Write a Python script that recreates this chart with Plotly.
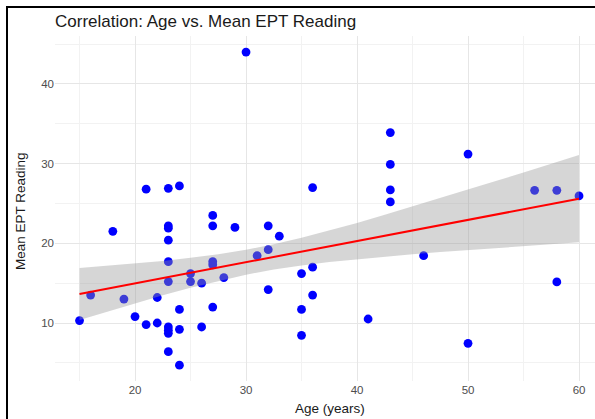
import plotly.graph_objects as go

# Scatter data (age in years, mean EPT reading)
age = [15, 16, 18, 19, 20, 21, 21, 22, 22,
       23, 23, 23, 23, 23, 23, 23, 23, 23, 23,
       24, 24, 24, 24, 25, 25, 26, 26,
       27, 27, 27, 27, 27, 28, 29, 30, 31,
       32, 32, 32, 33, 35, 35, 35, 36, 36, 36,
       41, 43, 43, 43, 43, 46, 50, 50, 56, 58, 58, 60]
ept = [10.3, 13.5, 21.5, 13.0, 10.8, 9.8, 26.8, 10.0, 13.2,
       26.9, 22.2, 21.9, 20.4, 17.7, 15.2, 9.5, 9.1, 8.7, 6.4,
       27.2, 11.7, 9.2, 4.7, 16.2, 15.2, 15.0, 9.5,
       23.5, 22.2, 17.7, 17.3, 12.0, 15.7, 22.0, 44.0, 18.45,
       22.2, 19.2, 14.2, 20.9, 16.2, 11.7, 8.45, 27.0, 17.0, 13.5,
       10.5, 33.9, 29.9, 26.7, 25.2, 18.45, 31.2, 7.45, 26.65, 26.65, 15.15, 25.95]

# Fitted line and confidence band
fit_x = [15, 17.5, 20, 22.5, 25, 27.5, 30, 32.5, 35, 37.5, 40,
         42.5, 45, 47.5, 50, 52.5, 55, 57.5, 60]
fit_y = [13.64, 14.30, 14.97, 15.63, 16.30, 16.96, 17.63, 18.29, 18.96, 19.62, 20.29,
         20.95, 21.62, 22.28, 22.95, 23.61, 24.28, 24.94, 25.60]
band_upper = [16.89, 17.16, 17.47, 17.79, 18.18, 18.63, 19.19, 19.88, 20.69, 21.59, 22.56,
              23.57, 24.61, 25.66, 26.74, 27.81, 28.90, 29.99, 31.08]
band_lower = [10.39, 11.44, 12.47, 13.47, 14.42, 15.29, 16.07, 16.70, 17.23, 17.65, 18.02,
              18.33, 18.63, 18.90, 19.16, 19.41, 19.66, 19.89, 20.12]

x_ticks = [20, 30, 40, 50, 60]
y_ticks = [10, 20, 30, 40]

W, H = 595, 419
L, R, T, B = 55, 0, 36, 38
pw, ph = W - L - R, H - T - B

def px(xp):
    return (xp - L) / pw

def py(yp):
    return (H - B - yp) / ph

FONT = "Liberation Sans, Arial, sans-serif"

fig = go.Figure()
fig.add_trace(go.Scatter(x=age, y=ept, mode="markers",
                         marker=dict(color="#0000FF", size=8.8, line=dict(width=0)),
                         showlegend=False, hoverinfo="x+y"))
fig.add_trace(go.Scatter(x=fit_x + fit_x[::-1], y=band_upper + band_lower[::-1],
                         mode="lines", line=dict(width=0),
                         fill="toself", fillcolor="rgba(153,153,153,0.4)",
                         showlegend=False, hoverinfo="skip"))
fig.add_trace(go.Scatter(x=fit_x, y=fit_y, mode="lines",
                         line=dict(color="#FF0000", width=2),
                         showlegend=False))

grid_major = "#E6E6E6"
grid_minor = "#F2F2F2"
fig.update_xaxes(range=[12.79, 61.44], tickvals=x_ticks, ticktext=[str(v) for v in x_ticks],
                 showgrid=True, gridcolor=grid_major, gridwidth=1.1,
                 minor=dict(dtick=5, tick0=15, showgrid=True, gridcolor=grid_minor, gridwidth=0.6),
                 zeroline=False, showline=False, ticks="",
                 tickfont=dict(family=FONT, size=11.5, color="#4D4D4D"))
fig.update_yaxes(range=[2.72, 46.02], tickvals=y_ticks, ticktext=[str(v) for v in y_ticks],
                 showgrid=True, gridcolor=grid_major, gridwidth=1.1,
                 minor=dict(dtick=5, tick0=5, showgrid=True, gridcolor=grid_minor, gridwidth=0.6),
                 zeroline=False, showline=False, ticks="",
                 tickfont=dict(family=FONT, size=11.5, color="#4D4D4D"))

fig.update_layout(
    width=W, height=H,
    margin=dict(l=L, r=R, t=T, b=B, pad=0),
    paper_bgcolor="white", plot_bgcolor="white",
    font=dict(family=FONT),
    annotations=[
        dict(text="Correlation: Age vs. Mean EPT Reading", xref="paper", yref="paper",
             x=px(53), y=py(21), xanchor="left", yanchor="middle", showarrow=False,
             font=dict(family=FONT, size=17, color="#1A1A1A")),
        dict(text="Age (years)", xref="paper", yref="paper",
             x=px(330), y=py(408), xanchor="center", yanchor="middle", showarrow=False,
             font=dict(family=FONT, size=13.5, color="#1A1A1A")),
        dict(text="Mean EPT Reading", xref="paper", yref="paper", textangle=-90,
             x=px(20), y=py(211), xanchor="center", yanchor="middle", showarrow=False,
             font=dict(family=FONT, size=13.5, color="#1A1A1A")),
    ],
    shapes=[
        dict(type="line", xref="paper", yref="paper", x0=px(7), x1=px(7), y0=py(419), y1=py(7),
             line=dict(color="black", width=2)),
        dict(type="line", xref="paper", yref="paper", x0=px(6), x1=px(597), y0=py(7), y1=py(7),
             line=dict(color="black", width=2)),
    ],
)

fig.write_html("out.html", config={"displayModeBar": False},
               post_script="document.documentElement.style.margin='0';document.documentElement.style.padding='0';document.body.style.margin='0';document.body.style.padding='0';document.body.style.overflow='hidden';document.documentElement.style.overflow='hidden';")
